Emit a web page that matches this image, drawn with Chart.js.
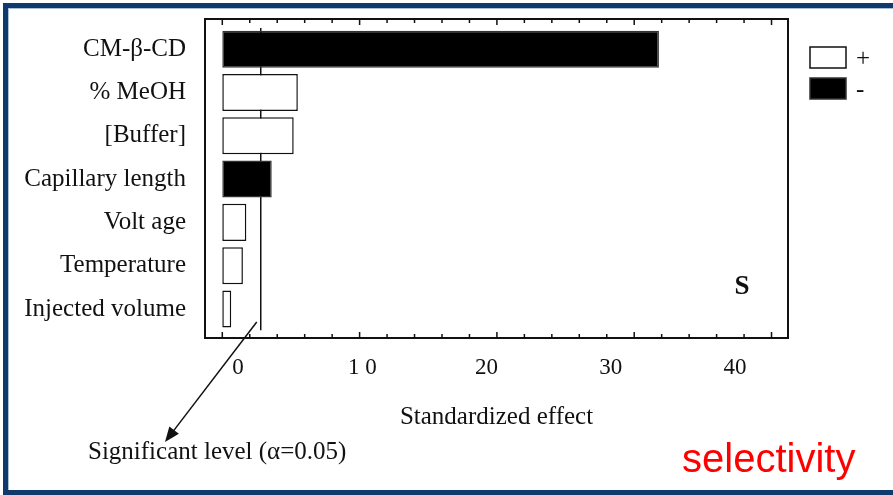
<!DOCTYPE html>
<html>
<head>
<meta charset="utf-8">
<script src="https://cdn.jsdelivr.net/npm/chart.js@4.4.1/dist/chart.umd.min.js"></script>
<style>
  html, body { margin: 0; padding: 0; background: #fff; overflow: hidden; }
  #wrap { position: relative; width: 893px; height: 495px; }
  #frame {
    position: absolute; left: 3px; top: 3px; width: 1000px; height: 492px;
    box-sizing: border-box; border: 5px solid #103a6b;
    box-shadow: inset 1px 1px 0 #a9c0d8; pointer-events: none;
  }
</style>
</head>
<body>
<div id="wrap">
  <canvas id="effectChart" width="893" height="495"></canvas>
  <div id="frame"></div>
</div>
<script>
// Pareto chart of standardized effects (selectivity)
const factors = ['CM-β-CD', '% MeOH', '[Buffer]', 'Capillary length', 'Volt age', 'Temperature', 'Injected volume'];
const effects = [31.8, 5.5, 5.2, 3.6, 1.75, 1.5, 0.65];
const signs = ['-', '+', '+', '-', '+', '+', '+'];
const effectTicks = [0, 10, 20, 30, 40];
const effectTickLabels = ['0', '1 0', '20', '30', '40'];
const sigLevel = 2.8;

const serif = "'Liberation Serif', 'Times New Roman', serif";
const ink = '#111';

// one dataset per sign, so bars get white (+) or black (-) fill
const makeDataset = (sign, fill) => ({
    label: sign,
    data: factors
        .map((_, i) => ({ x: effects[i], y: i }))
        .filter((_, i) => signs[i] === sign),
    backgroundColor: fill,
    borderColor: sign === '+' ? '#111' : '#333',
    borderWidth: 1.5,
    borderSkipped: false,
    grouped: false,
    barPercentage: 0.855,
    categoryPercentage: 1,
    xAxisID: 'x',
    yAxisID: 'y'
});

const notesPlugin = {
    id: 'notes',
    beforeDatasetsDraw(chart) {
        const { ctx } = chart;
        const x = chart.scales.x;
        const y = chart.scales.y;
        // significance level line, behind the bars
        const px = x.getPixelForValue(sigLevel);
        ctx.save();
        ctx.strokeStyle = ink;
        ctx.lineWidth = 1.5;
        ctx.beginPath();
        ctx.moveTo(px, y.getPixelForValue(-0.49));
        ctx.lineTo(px, y.getPixelForValue(factors.length - 1 + 0.49));
        ctx.stroke();
        ctx.restore();
    },
    afterDatasetsDraw(chart) {
        const { ctx, chartArea: area } = chart;
        const x = chart.scales.x;
        ctx.save();
        ctx.strokeStyle = ink;

        // plot box
        ctx.lineWidth = 2;
        ctx.strokeRect(area.left, area.top, area.right - area.left, area.bottom - area.top);

        // inward ticks on top and bottom
        ctx.lineWidth = 1.5;
        for (let v = 0; v <= 40; v += 2) {
            const px = x.getPixelForValue(v);
            const len = v % 10 === 0 ? 6 : 4;
            ctx.beginPath();
            ctx.moveTo(px, area.bottom);
            ctx.lineTo(px, area.bottom - len);
            ctx.moveTo(px, area.top);
            ctx.lineTo(px, area.top + len);
            ctx.stroke();
        }

        // legend
        chart.data.datasets.forEach((ds, i) => {
            const top = 47 + i * 31;
            ctx.fillStyle = ds.backgroundColor;
            ctx.fillRect(810, top, 36, 21);
            ctx.lineWidth = 1.5;
            ctx.strokeStyle = ds.borderColor;
            ctx.strokeRect(810, top, 36, 21);
            ctx.fillStyle = ink;
            ctx.font = `25px ${serif}`;
            ctx.textAlign = 'left';
            ctx.textBaseline = 'middle';
            ctx.fillText(ds.label, 856, top + 12);
        });

        // arrow to the significance note
        const sx = x.getPixelForValue(sigLevel) - 4;
        const sy = area.bottom - 16;
        const ex = 165, ey = 442;
        const ang = Math.atan2(ey - sy, ex - sx);
        ctx.strokeStyle = ink;
        ctx.lineWidth = 1.5;
        ctx.beginPath();
        ctx.moveTo(sx, sy);
        ctx.lineTo(ex - 8 * Math.cos(ang), ey - 8 * Math.sin(ang));
        ctx.stroke();
        ctx.fillStyle = ink;
        ctx.beginPath();
        ctx.moveTo(ex, ey);
        ctx.lineTo(ex - 15 * Math.cos(ang) + 6 * Math.sin(ang), ey - 15 * Math.sin(ang) - 6 * Math.cos(ang));
        ctx.lineTo(ex - 15 * Math.cos(ang) - 6 * Math.sin(ang), ey - 15 * Math.sin(ang) + 6 * Math.cos(ang));
        ctx.closePath();
        ctx.fill();

        ctx.textBaseline = 'middle';
        ctx.textAlign = 'left';
        ctx.font = `25px ${serif}`;
        ctx.fillText('Significant level (α=0.05)', 88, 452);

        ctx.textAlign = 'center';
        ctx.font = `bold 27px ${serif}`;
        ctx.fillText('S', 742, 287);

        ctx.textAlign = 'left';
        ctx.textBaseline = 'alphabetic';
        ctx.fillStyle = '#ff0000';
        ctx.font = "40px 'Liberation Sans', Arial, sans-serif";
        ctx.fillText('selectivity', 682, 472);
        ctx.restore();
    }
};

new Chart(document.getElementById('effectChart'), {
    type: 'bar',
    data: {
        datasets: [makeDataset('+', '#ffffff'), makeDataset('-', '#000000')]
    },
    options: {
        responsive: false,
        animation: false,
        indexAxis: 'y',
        layout: { padding: { top: 19, right: 105, left: 0, bottom: 0 } },
        plugins: {
            legend: { display: false },
            tooltip: { enabled: false }
        },
        scales: {
            x: { type: 'linear', display: false, min: -1.26, max: 41.2 },
            xl: {
                type: 'linear',
                position: 'bottom',
                min: -2.66,
                max: 44.27,
                grid: { display: false, drawTicks: false },
                border: { display: false },
                afterBuildTicks: (scale) => { scale.ticks = effectTicks.map(v => ({ value: v })); },
                ticks: {
                    font: { family: serif, size: 23 },
                    color: ink,
                    padding: 16,
                    maxRotation: 0,
                    autoSkip: false,
                    callback: (v) => effectTickLabels[effectTicks.indexOf(v)] ?? ''
                },
                title: {
                    display: true,
                    text: 'Standardized effect',
                    font: { family: serif, size: 25 },
                    color: ink,
                    padding: { top: 0, bottom: 63 }
                },
                afterFit: (scale) => {
                    scale.height = 157;
                    scale.paddingLeft = 0;
                    scale.paddingRight = 0;
                }
            },
            y: {
                type: 'linear',
                reverse: true,
                offset: false,
                min: -0.697,
                max: 6.67,
                grid: { display: false, drawTicks: false },
                border: { display: false },
                afterBuildTicks: (scale) => { scale.ticks = factors.map((_, i) => ({ value: i })); },
                ticks: {
                    font: { family: serif, size: 25 },
                    color: ink,
                    padding: 19,
                    autoSkip: false,
                    callback: (v) => factors[v] ?? ''
                },
                afterFit: (scale) => {
                    scale.width = 205;
                    scale.paddingTop = 0;
                    scale.paddingBottom = 0;
                }
            }
        }
    },
    plugins: [notesPlugin]
});
</script>
</body>
</html>
